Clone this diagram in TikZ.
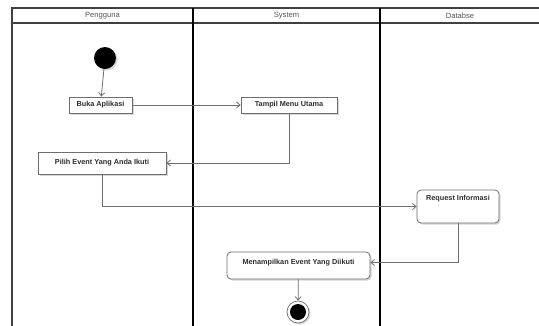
\documentclass[tikz,border=0pt]{standalone}
\usepackage{fontspec}
\setmainfont{Liberation Sans}
\usetikzlibrary{arrows.meta,shadows,positioning,calc}
\definecolor{linegrey}{HTML}{6E6E6E}
\definecolor{textgrey}{HTML}{2E2E2E}
\definecolor{headgrey}{HTML}{555555}
\tikzset{
  lane/.style={line width=1.6pt, draw=black},
  border/.style={line width=1.6pt, draw=black!75},
  head/.style={font=\fontsize{7.6}{9}\selectfont, text=headgrey, inner sep=0pt},
  boxshadow/.style={drop shadow={shadow xshift=1.6pt, shadow yshift=-1.6pt, opacity=0.25, fill=black!60}},
  action/.style={draw=linegrey, line width=0.8pt, fill=white, boxshadow,
    font=\bfseries\fontsize{7.3}{9}\selectfont, text=textgrey, inner sep=0pt,
    minimum width=#1, minimum height=16pt},
  ractivity/.style={action=#1, rounded corners=4pt},
  flow/.style={draw=linegrey, line width=0.8pt, -{Straight Barb[length=3.5pt,width=6pt]}},
}
\begin{document}
\begin{tikzpicture}[x=1pt,y=-1pt]
\useasboundingbox (0,0) rectangle (539,325);
\fill[white] (0,0) rectangle (539,325);
\begin{scope}
\clip (0,0) rectangle (539,325);
% swimlane frame
\draw[border] (12,330) -- (12,8) -- (545,8);
\draw[border] (12,23) -- (545,23);
\draw[lane] (193,8) -- (193,330);
\draw[lane] (380,8) -- (380,330);
\end{scope}
\node[head] (hp) at (102.5,15.5) {Pengguna};
\node[head] (hs) at (286.5,15.5) {System};
\node[head] (hd) at (460,15.5) {Databse};

% activities
\node[circle, fill=black, minimum size=22pt, inner sep=0pt, boxshadow] (start) at (105,58) {};
\node[action=63pt] (buka) at (100.5,105) {Buka Aplikasi};
\node[action=96pt] (tampil) at (289,105) {Tampil Menu Utama};
\node[action=128pt, minimum height=22pt] (pilih) at (102,163) {Pilih Event Yang Anda Ikuti};
\node[ractivity=82pt, minimum height=33pt, text depth=18pt, text height=6pt] (request) at (458,206.5) {Request Informasi};
\node[ractivity=143pt, minimum height=27pt, text depth=8pt, text height=6pt] (tampilevent) at (298.5,265.5) {Menampilkan Event Yang Diikuti};
\node[circle, draw=linegrey, line width=0.7pt, fill=white, minimum size=22pt, inner sep=0pt, boxshadow] (final) at (298,312) {};
\node[circle, fill=black, minimum size=16pt, inner sep=0pt] (finaldot) at (final) {};

% control flows
\draw[flow] (start) -- (buka);
\draw[flow] (buka) -- (tampil);
\draw[flow] (tampil.south) |- (pilih.east);
\draw[flow] (pilih.south) |- (request.west);
\draw[flow] (request.south) |- ([yshift=3pt]tampilevent.east);
\draw[flow] (tampilevent) -- (final);
\end{tikzpicture}
\end{document}
